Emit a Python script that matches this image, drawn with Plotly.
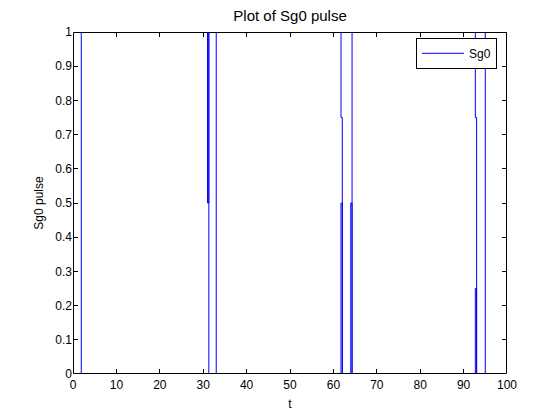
import plotly.graph_objects as go

# Pulse signal path (t, value)
t = [0, 1.9, 1.9, 31.0, 31.0, 31.3, 31.3, 31.3, 33.0, 33.0,
     61.75, 61.75, 62.05, 62.05, 61.75, 61.75, 62.05, 62.05,
     64.0, 64.0, 64.3, 64.3, 64.3,
     92.7, 92.7, 93.0, 93.0, 92.7, 92.7, 93.0, 93.0,
     95.0, 95.0, 100]
sg0 = [0, 0, 1, 1, 0.5, 0.5, 1, 0, 0, 1,
       1, 0.75, 0.75, 0, 0, 0.5, 0.5, 0,
       0, 0.5, 0.5, 0, 1,
       1, 0.75, 0.75, 0, 0, 0.25, 0.25, 0,
       0, 1, 1]

x_ticks = list(range(0, 101, 10))
y_ticks = [round(i * 0.1, 1) for i in range(11)]
y_ticktext = ["0", "0.1", "0.2", "0.3", "0.4", "0.5", "0.6", "0.7", "0.8", "0.9", "1"]

FONT = "Liberation Sans, Arial, sans-serif"
W, H = 560, 420
ML, MR, MT, MB = 73, 53, 32, 46
PW, PH = W - ML - MR, H - MT - MB

fig = go.Figure()
fig.add_trace(go.Scatter(x=t, y=sg0, mode="lines", name="Sg0",
                         line=dict(color="#0000ff", width=1)))

axis_common = dict(showgrid=False, zeroline=False, showline=False,
                   mirror="allticks", ticks="inside", ticklen=5,
                   tickcolor="black", tickwidth=1, automargin=False,
                   tickfont=dict(family=FONT, size=12, color="black"))

fig.update_xaxes(range=[0, 100], tickvals=x_ticks, ticktext=[str(v) for v in x_ticks],
                 ticklabelstandoff=2,
                 title=dict(text="t", font=dict(family=FONT, size=12, color="black"), standoff=8),
                 **axis_common)
fig.update_yaxes(range=[0, 1], tickvals=y_ticks, ticktext=y_ticktext,
                 title=dict(text="Sg0 pulse", font=dict(family=FONT, size=12, color="black"), standoff=9),
                 **axis_common)

# Axes box drawn above the trace (like MATLAB), covering lines lying on the frame
fig.add_shape(type="rect", xref="paper", yref="paper",
              x0=0.5 / PW, x1=1 - 0.5 / PW, y0=0.5 / PH, y1=1 - 0.5 / PH,
              line=dict(color="black", width=1), layer="above")

fig.update_layout(
    width=W, height=H,
    margin=dict(l=ML, r=MR, t=MT, b=MB),
    paper_bgcolor="white", plot_bgcolor="white",
    title=dict(text="Plot of Sg0 pulse", x=0.518, xanchor="center", y=0.962, yanchor="middle",
               font=dict(family=FONT, size=15, color="black")),
    showlegend=True,
    legend=dict(x=0.977, xanchor="right", y=0.983, yanchor="top",
                itemwidth=42, tracegroupgap=0,
                bordercolor="black", borderwidth=1, bgcolor="white",
                font=dict(family=FONT, size=12, color="black")),
)

fig.write_html("out.html", config={"displayModeBar": False},
               post_script="document.body.style.margin='0';")
